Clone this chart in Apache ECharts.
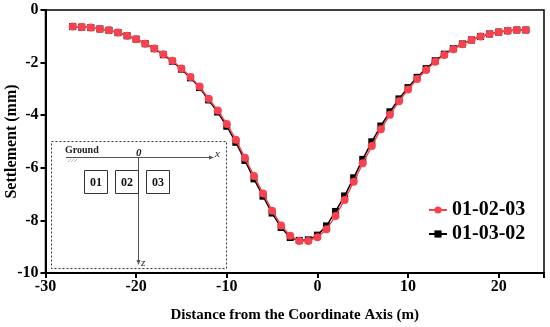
<!DOCTYPE html>
<html>
<head>
<meta charset="utf-8">
<script src="https://cdn.jsdelivr.net/npm/echarts@6/dist/echarts.min.js"></script>
<style>html,body{margin:0;padding:0;background:#fff}#c{width:550px;height:327px}</style>
</head>
<body>
<div id="c"></div>
<script>
const distances = [-27,-26,-25,-24,-23,-22,-21,-20,-19,-18,-17,-16,-15,-14,-13,-12,-11,-10,-9,-8,-7,-6,-5,-4,-3,-2,-1,0,1,2,3,4,5,6,7,8,9,10,11,12,13,14,15,16,17,18,19,20,21,22,23];
const series010203 = [-0.63,-0.65,-0.67,-0.72,-0.77,-0.86,-0.98,-1.11,-1.28,-1.46,-1.68,-1.93,-2.22,-2.55,-2.91,-3.37,-3.82,-4.33,-4.93,-5.62,-6.31,-6.98,-7.63,-8.19,-8.58,-8.78,-8.78,-8.64,-8.34,-7.83,-7.22,-6.53,-5.83,-5.17,-4.53,-3.98,-3.47,-3.02,-2.62,-2.28,-1.97,-1.71,-1.49,-1.30,-1.14,-1.01,-0.91,-0.84,-0.79,-0.76,-0.76];
const series010302 = [-0.63,-0.65,-0.67,-0.72,-0.77,-0.86,-0.98,-1.11,-1.28,-1.47,-1.70,-1.95,-2.25,-2.58,-2.95,-3.42,-3.88,-4.42,-5.03,-5.72,-6.42,-7.08,-7.72,-8.27,-8.65,-8.76,-8.74,-8.56,-8.21,-7.66,-7.07,-6.38,-5.68,-5.01,-4.41,-3.87,-3.38,-2.95,-2.56,-2.23,-1.93,-1.68,-1.47,-1.29,-1.14,-1.01,-0.91,-0.84,-0.79,-0.76,-0.76];
const seriesNames = ['01-02-03','01-03-02'];
const xTicks = [-30,-20,-10,0,10,20];
const yTicks = [0,-2,-4,-6,-8,-10];
const boxLabels = ['01','02','03'];

const FONT = 'Liberation Serif';
const chart = echarts.init(document.getElementById('c'));
const pair = (xs, ys) => xs.map((x, i) => [x, ys[i]]);

const inset = [
  {type:'rect', shape:{x:51.5, y:141.5, width:175, height:127}, style:{fill:'none', stroke:'#333', lineWidth:1, lineDash:[2,2]}, z:5},
  {type:'line', shape:{x1:66, y1:157.5, x2:212, y2:157.5}, style:{stroke:'#555', lineWidth:1}, z:5},
  {type:'polygon', shape:{points:[[214,157.5],[209,155.5],[209,159.5]]}, style:{fill:'#555'}, z:5},
  {type:'line', shape:{x1:138.5, y1:157, x2:138.5, y2:262}, style:{stroke:'#555', lineWidth:1}, z:5},
  {type:'polygon', shape:{points:[[138.5,265],[136.5,260],[140.5,260]]}, style:{fill:'#555'}, z:5},
  {type:'text', style:{text:'Ground', x:65, y:150, font:'bold 10px "'+FONT+'"', fill:'#222', verticalAlign:'middle'}, z:6},
  {type:'line', shape:{x1:68, y1:162, x2:71, y2:159}, style:{stroke:'#aaa', lineWidth:0.8}, z:5},
  {type:'line', shape:{x1:71, y1:162, x2:74, y2:159}, style:{stroke:'#aaa', lineWidth:0.8}, z:5},
  {type:'line', shape:{x1:74, y1:162, x2:77, y2:159}, style:{stroke:'#aaa', lineWidth:0.8}, z:5},
  {type:'text', style:{text:'0', x:136, y:153, font:'italic bold 11px "'+FONT+'"', fill:'#222', verticalAlign:'middle'}, z:6},
  {type:'text', style:{text:'x', x:215, y:154, font:'italic 11px "'+FONT+'"', fill:'#222', verticalAlign:'middle'}, z:6},
  {type:'text', style:{text:'z', x:141, y:263, font:'italic 11px "'+FONT+'"', fill:'#222', verticalAlign:'middle'}, z:6}
];
const boxX = [84.5, 115.5, 146.5];
boxLabels.forEach((t, i) => {
  inset.push({type:'rect', shape:{x:boxX[i], y:170.5, width:23, height:23}, style:{fill:'#fff', stroke:'#333', lineWidth:1}, z:5});
  inset.push({type:'text', style:{text:t, x:boxX[i]+11.5, y:182.5, font:'bold 12px "'+FONT+'"', fill:'#111', align:'center', verticalAlign:'middle'}, z:6});
});

chart.setOption({
  animation: false,
  backgroundColor: '#fff',
  grid: {left: 45.5, right: 6, top: 10, bottom: 54, show: true, borderColor: '#000', borderWidth: 1.5,
         backgroundColor: 'transparent', containLabel: false, outerBoundsMode: 'none'},
  legend: {
    orient: 'vertical', left: 423, top: 195, itemGap: 4, itemWidth: 18, itemHeight: 9,
    data: seriesNames,
    textStyle: {fontFamily: FONT, fontWeight: 'bold', fontSize: 20, color: '#000'}
  },
  xAxis: {
    type: 'value', min: -30, max: 25, interval: 10,
    name: 'Distance from the Coordinate Axis (m)', nameLocation: 'middle', nameGap: 35, nameMoveOverlap: false,
    nameTextStyle: {fontFamily: FONT, fontWeight: 'bold', fontSize: 15, color: '#000'},
    axisLine: {show: true, onZero: false, lineStyle: {color: '#000', width: 2}},
    axisTick: {show: true, length: 5, lineStyle: {color: '#000', width: 2}},
    axisLabel: {fontFamily: FONT, fontWeight: 'bold', fontSize: 16, color: '#000', margin: 6,
      formatter: v => xTicks.includes(v) ? String(v) : ''},
    splitLine: {show: false}
  },
  yAxis: {
    type: 'value', min: -10, max: 0, interval: 2,
    name: 'Settlement (mm)', nameLocation: 'middle', nameGap: 26, nameRotate: 90, nameMoveOverlap: false,
    nameTextStyle: {fontFamily: FONT, fontWeight: 'bold', fontSize: 16, color: '#000'},
    axisLine: {show: true, onZero: false, lineStyle: {color: '#000', width: 2}},
    axisTick: {show: true, length: 5, lineStyle: {color: '#000', width: 2}},
    axisLabel: {fontFamily: FONT, fontWeight: 'bold', fontSize: 16, color: '#000', margin: 7,
      formatter: v => yTicks.includes(v) ? String(v) : ''},
    splitLine: {show: false}
  },
  series: [
    {name: seriesNames[1], type: 'line', data: pair(distances, series010302),
     symbol: 'rect', symbolSize: 7, z: 2,
     lineStyle: {color: '#000', width: 1.5}, itemStyle: {color: '#000'}},
    {name: seriesNames[0], type: 'line', data: pair(distances, series010203),
     symbol: 'circle', symbolSize: 8, z: 3,
     lineStyle: {color: '#f7434f', width: 1.5}, itemStyle: {color: '#f7434f'}}
  ],
  graphic: inset
});
</script>
</body>
</html>
